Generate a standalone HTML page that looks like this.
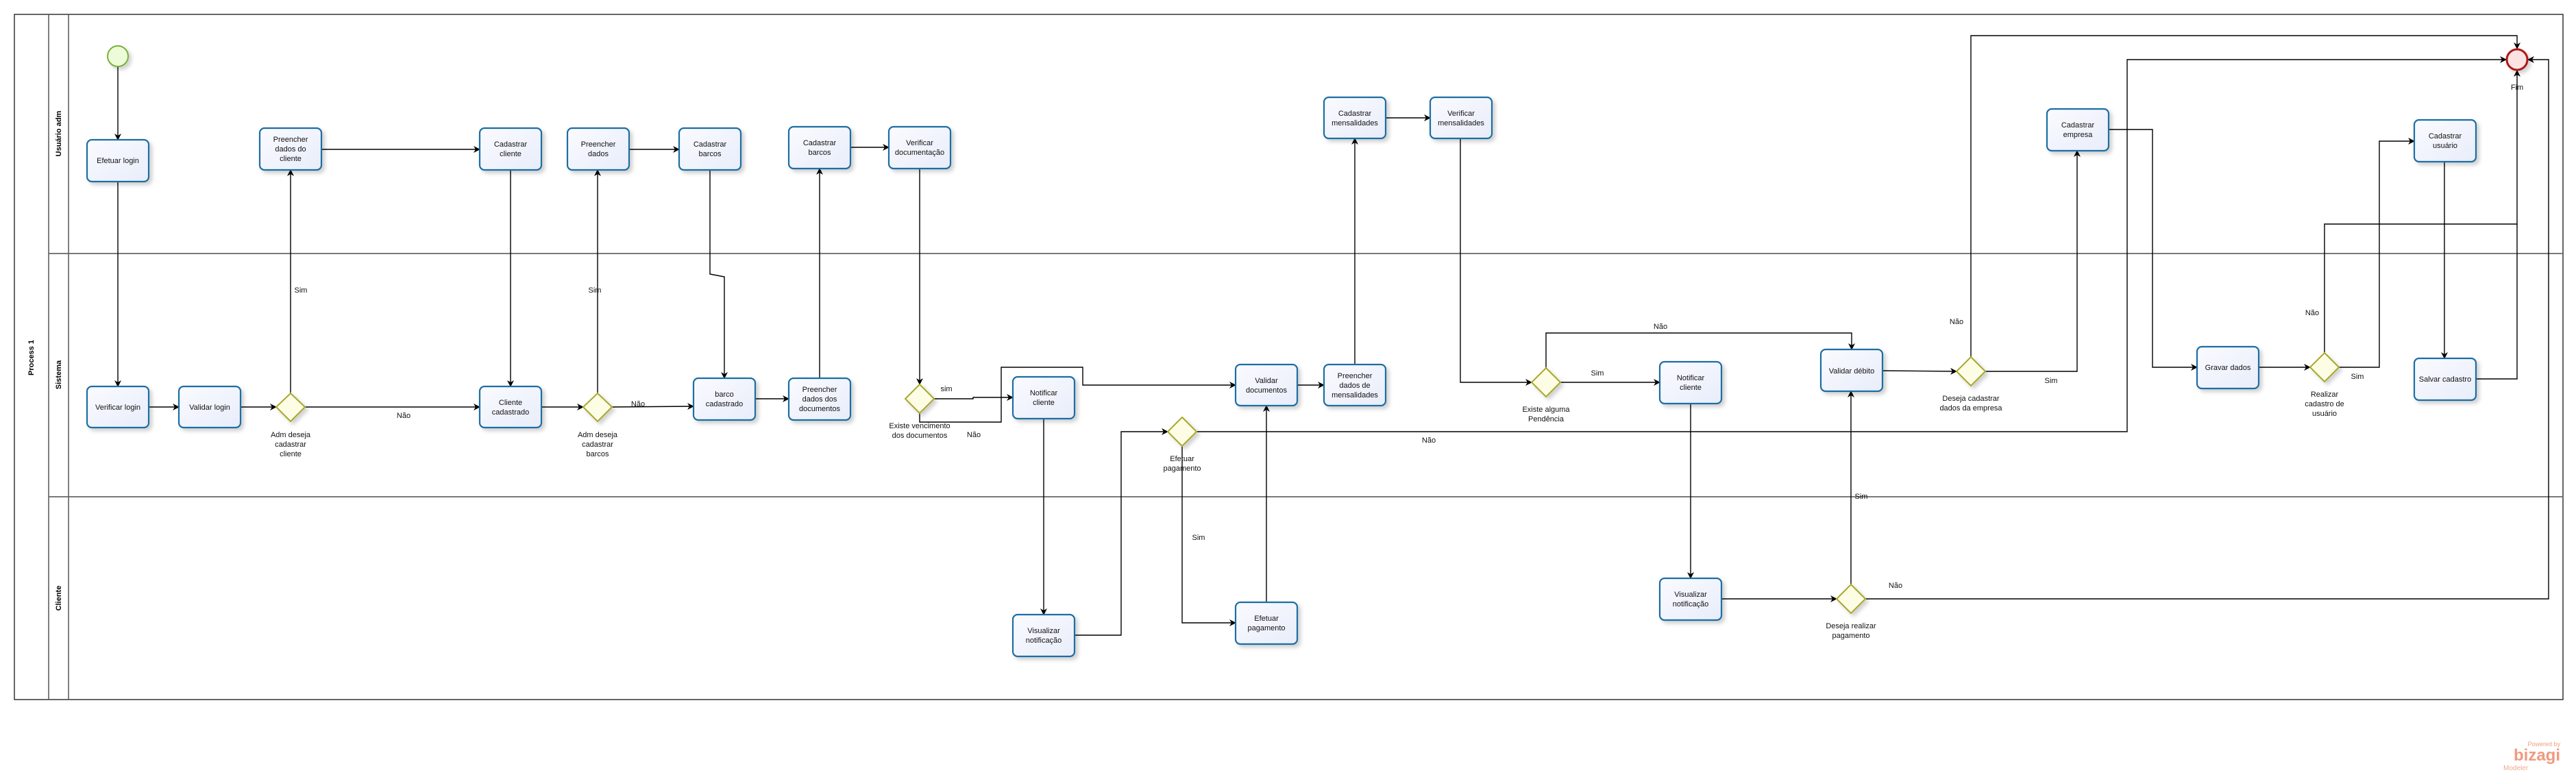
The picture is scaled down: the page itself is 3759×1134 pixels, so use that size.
<!DOCTYPE html>
<html><head><meta charset="utf-8"><style>
html,body{margin:0;padding:0;background:#fff;}
svg{display:block;font-family:"Liberation Sans",sans-serif;}
.b{fill:url(#g);stroke:#1f6ea3;stroke-width:2.2;}
.d{fill:#fdfde6;stroke:#a9a82a;stroke-width:2;}
.l{fill:none;stroke:#000;stroke-width:1.4;}
.t{font-size:11px;fill:#111;text-anchor:middle;}
.lb{font-size:11px;fill:#111;}
.ln{font-size:11px;font-weight:bold;fill:#000;text-anchor:middle;}
</style></head><body>
<svg width="3759" height="1134" viewBox="0 0 3759 1134" xmlns="http://www.w3.org/2000/svg">
<defs>
<linearGradient id="g" x1="0" y1="0" x2="1" y2="1"><stop offset="0" stop-color="#fafbff"/><stop offset="1" stop-color="#e8edfa"/></linearGradient>
<marker id="a" markerWidth="10" markerHeight="10" refX="9" refY="5" orient="auto" markerUnits="userSpaceOnUse"><path d="M0,0 L10,5 L0,10 L3,5 z" fill="#000"/></marker>
<filter id="s" x="-20%" y="-20%" width="150%" height="150%"><feDropShadow dx="4" dy="4" stdDeviation="3" flood-color="#000" flood-opacity="0.18"/></filter>
</defs>
<!-- pool -->
<rect x="21" y="21" width="3719" height="1000" fill="none" stroke="#333" stroke-width="1.5"/>
<line x1="71" y1="21" x2="71" y2="1021" stroke="#555" stroke-width="1.5"/>
<line x1="100" y1="21" x2="100" y2="1021" stroke="#555" stroke-width="1.5"/>
<line x1="71" y1="370" x2="3740" y2="370" stroke="#666" stroke-width="1.8"/>
<line x1="71" y1="725" x2="3740" y2="725" stroke="#666" stroke-width="1.8"/>
<text class="ln" transform="translate(49,522) rotate(-90)">Process 1</text>
<text class="ln" transform="translate(89,195) rotate(-90)">Usuário adm</text>
<text class="ln" transform="translate(89,547) rotate(-90)">Sistema</text>
<text class="ln" transform="translate(89,873) rotate(-90)">Cliente</text>

<!-- connectors -->
<g class="l" marker-end="url(#a)">
<polyline points="172,97 172,204"/>
<polyline points="172,265 172,564"/>
<polyline points="216,594 261,594"/>
<polyline points="351,594 403,594"/>
<polyline points="424,574 424,248"/>
<polyline points="445,594 700,594"/>
<polyline points="468,218 700,218"/>
<polyline points="745,248 745,564"/>
<polyline points="790,594 851,594"/>
<polyline points="872,574 872,248"/>
<polyline points="893,594 1012,593"/>
<polyline points="917,218 991,218"/>
<polyline points="1036,248 1036,400 1057,404 1057,552"/>
<polyline points="1102,582 1151,582"/>
<polyline points="1196,552 1196,246"/>
<polyline points="1240,215 1297,215"/>
<polyline points="1342,246 1342,561"/>
<polyline points="1363,582 1420,582 1420,580 1478,580"/>
<polyline points="1342,603 1342,616 1461,616 1461,536 1580,536 1580,562 1803,562"/>
<polyline points="1893,562 1932,562"/>
<polyline points="1977,532 1977,202"/>
<polyline points="2022,172 2087,172"/>
<polyline points="2131,202 2131,558 2235,558"/>
<polyline points="2277,558 2422,558"/>
<polyline points="2256,537 2256,486 2702,486 2702,510"/>
<polyline points="1523,611 1523,897"/>
<polyline points="1567,927 1636,927 1636,630 1704,630"/>
<polyline points="1725,651 1725,909 1803,909"/>
<polyline points="1848,879 1848,592"/>
<polyline points="1746,630 3104,630 3104,87 3657,87"/>
<polyline points="2467,589 2467,844"/>
<polyline points="2511,874 2680,874"/>
<polyline points="2701,853 2701,571"/>
<polyline points="2722,874 3719,874 3719,87 3689,87"/>
<polyline points="2746,541 2855,542"/>
<polyline points="2876,521 2876,52 3673,52 3673,71"/>
<polyline points="2897,542 3031,542 3031,220"/>
<polyline points="3076,189 3141,189 3141,536 3206,536"/>
<polyline points="3295,536 3371,536"/>
<polyline points="3392,515 3392,327 3673,327 3673,103"/>
<polyline points="3413,536 3472,536 3472,206 3523,206"/>
<polyline points="3567,236 3567,523"/>
</g>
<polyline class="l" points="3612,553 3673,553 3673,327"/>

<!-- start/end -->
<circle cx="172" cy="82" r="15" fill="#eefbd8" stroke="#7ab03a" stroke-width="2" filter="url(#s)"/>
<circle cx="3673" cy="87" r="15" fill="#fbe3e3" stroke="#b01818" stroke-width="3" filter="url(#s)"/>
<text class="t" x="3673" y="131">Fim</text>

<!-- tasks -->
<g filter="url(#s)">
<rect class="b" x="127" y="204" width="90" height="61" rx="7"/>
<rect class="b" x="379" y="187" width="90" height="61" rx="7"/>
<rect class="b" x="700" y="187" width="90" height="61" rx="7"/>
<rect class="b" x="828" y="187" width="90" height="61" rx="7"/>
<rect class="b" x="991" y="187" width="90" height="61" rx="7"/>
<rect class="b" x="1151" y="185" width="90" height="61" rx="7"/>
<rect class="b" x="1297" y="185" width="90" height="61" rx="7"/>
<rect class="b" x="1932" y="142" width="90" height="60" rx="7"/>
<rect class="b" x="2087" y="142" width="90" height="60" rx="7"/>
<rect class="b" x="2987" y="159" width="90" height="61" rx="7"/>
<rect class="b" x="3523" y="175" width="90" height="61" rx="7"/>
<rect class="b" x="127" y="564" width="90" height="60" rx="7"/>
<rect class="b" x="261" y="564" width="90" height="60" rx="7"/>
<rect class="b" x="700" y="564" width="90" height="60" rx="7"/>
<rect class="b" x="1012" y="552" width="90" height="61" rx="7"/>
<rect class="b" x="1151" y="552" width="90" height="61" rx="7"/>
<rect class="b" x="1478" y="550" width="90" height="61" rx="7"/>
<rect class="b" x="1803" y="532" width="90" height="60" rx="7"/>
<rect class="b" x="1932" y="532" width="90" height="60" rx="7"/>
<rect class="b" x="2422" y="528" width="90" height="61" rx="7"/>
<rect class="b" x="2657" y="510" width="90" height="61" rx="7"/>
<rect class="b" x="3206" y="506" width="90" height="61" rx="7"/>
<rect class="b" x="3523" y="523" width="90" height="61" rx="7"/>
<rect class="b" x="1478" y="897" width="90" height="61" rx="7"/>
<rect class="b" x="1803" y="879" width="90" height="61" rx="7"/>
<rect class="b" x="2422" y="844" width="90" height="61" rx="7"/>
</g>

<!-- gateways -->
<g filter="url(#s)">
<polygon class="d" points="424,574 445,594 424,615 403,594"/>
<polygon class="d" points="872,574 893,594 872,615 851,594"/>
<polygon class="d" points="1342,561 1363,582 1342,603 1321,582"/>
<polygon class="d" points="1725,609 1746,630 1725,651 1704,630"/>
<polygon class="d" points="2256,537 2277,558 2256,579 2235,558"/>
<polygon class="d" points="2876,521 2897,542 2876,563 2855,542"/>
<polygon class="d" points="3392,515 3413,536 3392,557 3371,536"/>
<polygon class="d" points="2701,853 2722,874 2701,895 2680,874"/>
</g>

<!-- task text -->
<g class="t">
<text x="172" y="238">Efetuar login</text>
<text x="424" y="207">Preencher</text><text x="424" y="221">dados do</text><text x="424" y="235">cliente</text>
<text x="745" y="214">Cadastrar</text><text x="745" y="228">cliente</text>
<text x="873" y="214">Preencher</text><text x="873" y="228">dados</text>
<text x="1036" y="214">Cadastrar</text><text x="1036" y="228">barcos</text>
<text x="1196" y="212">Cadastrar</text><text x="1196" y="226">barcos</text>
<text x="1342" y="212">Verificar</text><text x="1342" y="226">documentação</text>
<text x="1977" y="169">Cadastrar</text><text x="1977" y="183">mensalidades</text>
<text x="2132" y="169">Verificar</text><text x="2132" y="183">mensalidades</text>
<text x="3032" y="186">Cadastrar</text><text x="3032" y="200">empresa</text>
<text x="3568" y="202">Cadastrar</text><text x="3568" y="216">usuário</text>
<text x="172" y="598">Verificar  login</text>
<text x="306" y="598">Validar  login</text>
<text x="745" y="591">Cliente</text><text x="745" y="605">cadastrado</text>
<text x="1057" y="579">barco</text><text x="1057" y="593">cadastrado</text>
<text x="1196" y="572">Preencher</text><text x="1196" y="586">dados dos</text><text x="1196" y="600">documentos</text>
<text x="1523" y="577">Notificar</text><text x="1523" y="591">cliente</text>
<text x="1848" y="559">Validar</text><text x="1848" y="573">documentos</text>
<text x="1977" y="552">Preencher</text><text x="1977" y="566">dados de</text><text x="1977" y="580">mensalidades</text>
<text x="2467" y="555">Notificar</text><text x="2467" y="569">cliente</text>
<text x="2702" y="545">Validar débito</text>
<text x="3251" y="540">Gravar dados</text>
<text x="3568" y="557">Salvar cadastro</text>
<text x="1523" y="924">Visualizar</text><text x="1523" y="938">notificação</text>
<text x="1848" y="906">Efetuar</text><text x="1848" y="920">pagamento</text>
<text x="2467" y="871">Visualizar</text><text x="2467" y="885">notificação</text>
<!-- gateway labels -->
<text x="424" y="638">Adm deseja</text><text x="424" y="652">cadastrar</text><text x="424" y="666">cliente</text>
<text x="872" y="638">Adm deseja</text><text x="872" y="652">cadastrar</text><text x="872" y="666">barcos</text>
<text x="1342" y="625">Existe vencimento</text><text x="1342" y="639">dos documentos</text>
<text x="1725" y="673">Efetuar</text><text x="1725" y="687">pagamento</text>
<text x="2256" y="601">Existe alguma</text><text x="2256" y="615">Pendência</text>
<text x="2876" y="585">Deseja cadastrar</text><text x="2876" y="599">dados da empresa</text>
<text x="3392" y="579">Realizar</text><text x="3392" y="593">cadastro de</text><text x="3392" y="607">usuário</text>
<text x="2701" y="917">Deseja realizar</text><text x="2701" y="931">pagamento</text>
<!-- flow labels -->
<text x="439" y="427">Sim</text>
<text x="589" y="610">Não</text>
<text x="868" y="427">Sim</text>
<text x="931" y="593">Não</text>
<text x="1381" y="571">sim</text>
<text x="1421" y="638">Não</text>
<text x="2085" y="646">Não</text>
<text x="1749" y="788">Sim</text>
<text x="2331" y="548">Sim</text>
<text x="2423" y="480">Não</text>
<text x="2716" y="728">Sim</text>
<text x="2766" y="858">Não</text>
<text x="2855" y="473">Não</text>
<text x="2993" y="559">Sim</text>
<text x="3374" y="460">Não</text>
<text x="3440" y="553">Sim</text>
</g>

<!-- logo -->
<text x="3736" y="1089" font-size="9" fill="#f2a080" text-anchor="end">Powered by</text>
<text x="3736" y="1110" font-size="24" font-weight="bold" fill="#ef9a80" text-anchor="end">bizagi</text>
<text x="3653" y="1124" font-size="10" fill="#f2a890">Modeler</text>
</svg>
</body></html>
